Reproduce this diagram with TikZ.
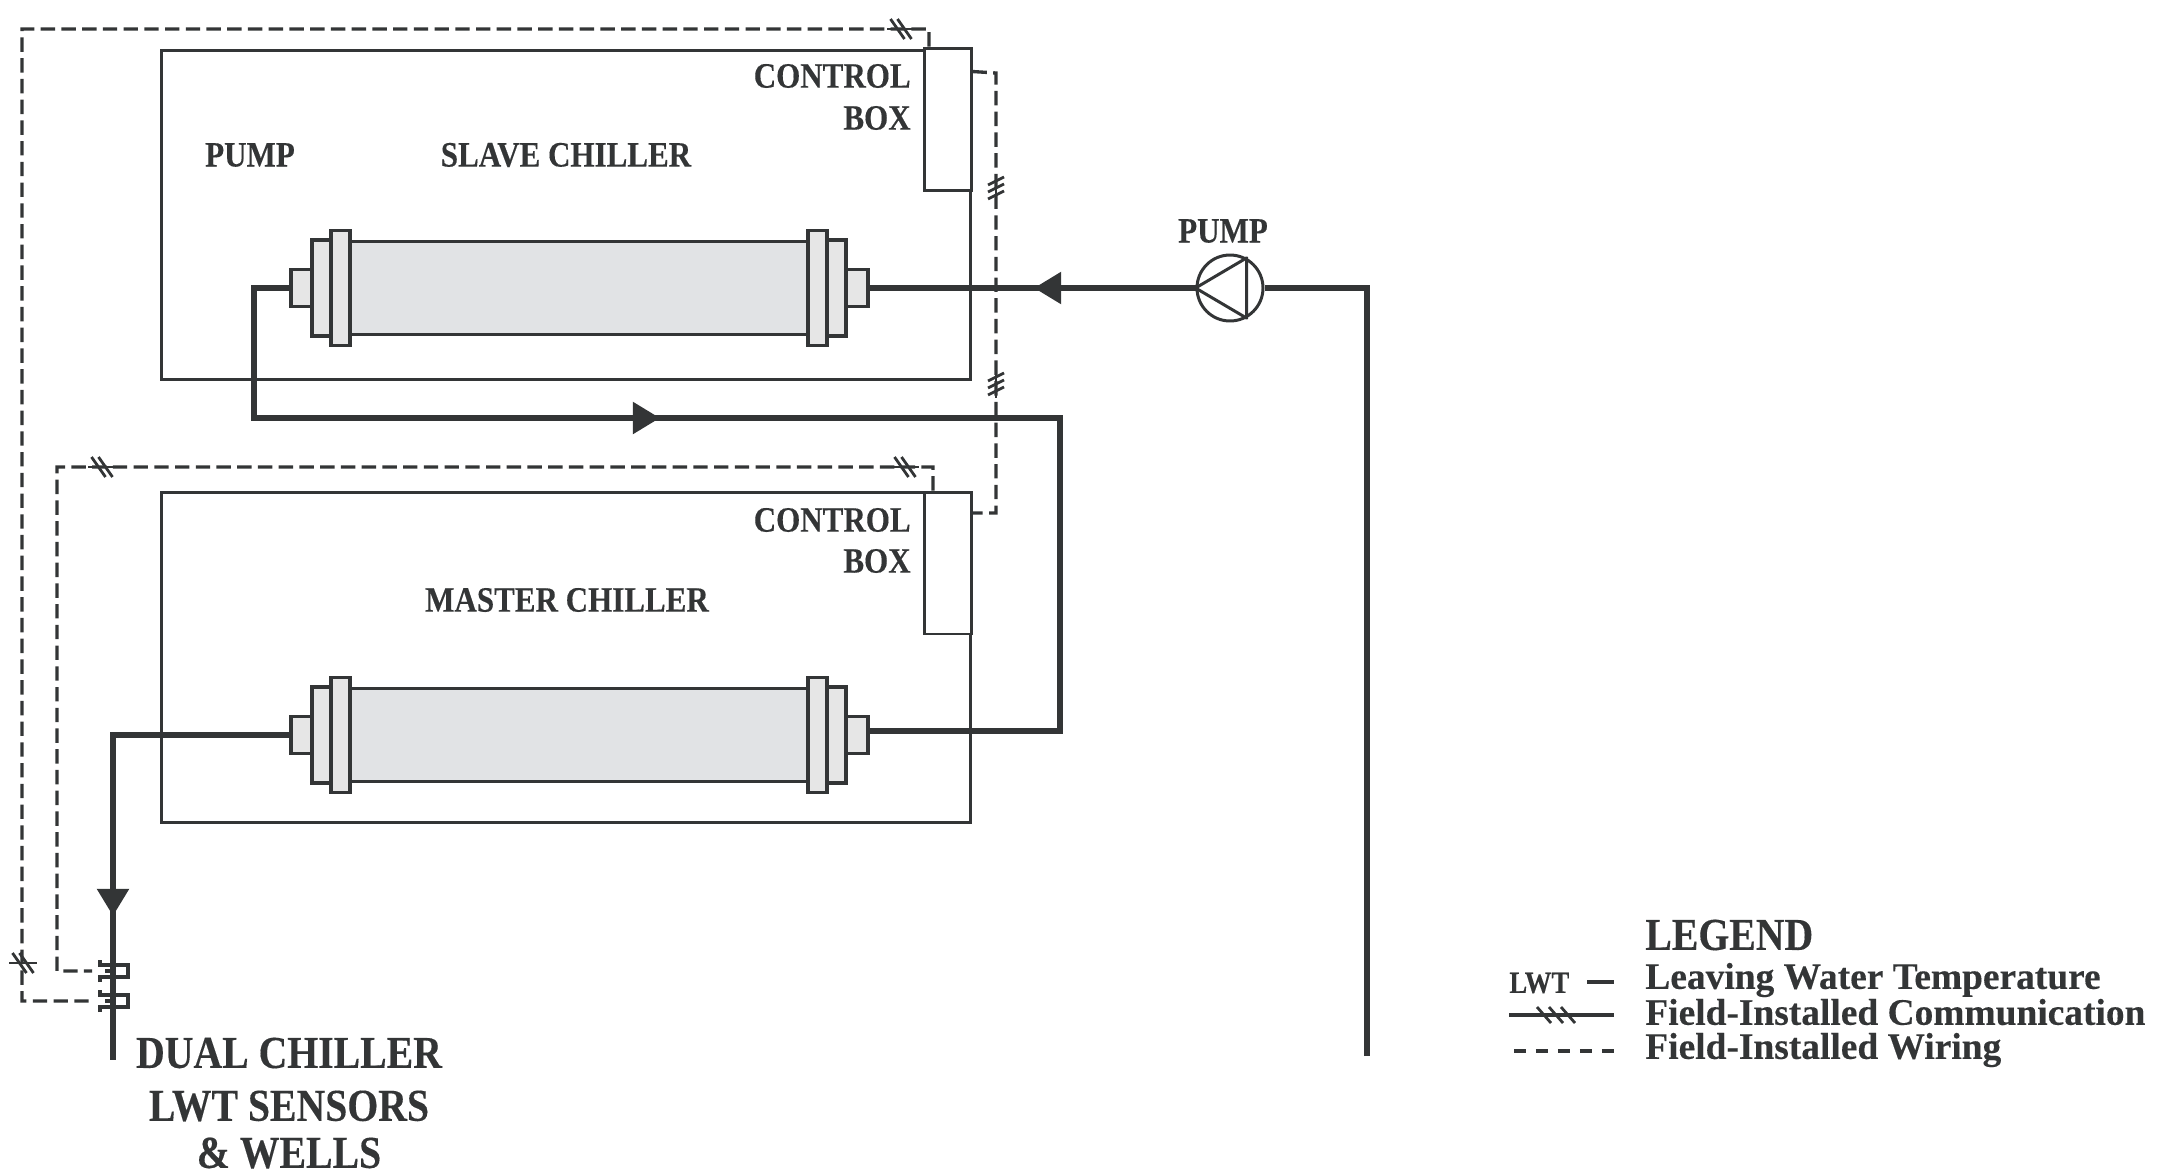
\documentclass[tikz,border=0pt]{standalone}
\usepackage{xcolor}
\usepackage{fontspec}
\setmainfont{Liberation Serif}
\newfontfamily\capsfont{Liberation Serif Bold}[FakeStretch=0.87,FakeBold=0.25]
\newfontfamily\rowfont{Liberation Serif Bold}[FakeBold=0.25]
\usepackage{tikz}
\usetikzlibrary{arrows.meta,calc}
\definecolor{inkgrey}{HTML}{333536}
\definecolor{shellgrey}{HTML}{E1E3E5}
\definecolor{flangegrey}{HTML}{E6E6E6}
\newcommand{\labelfont}{\capsfont\fontsize{20.3}{22}\selectfont}
\newcommand{\bigfont}{\capsfont\fontsize{26}{28}\selectfont}
\newcommand{\legendfont}{\rowfont\fontsize{21.3}{22}\selectfont}
\tikzset{
  chiller/.style={draw=inkgrey,line width=1.7pt,rectangle,inner sep=0pt},
  ctrlbox/.style={chiller,fill=white,minimum width=0.94cm},
  hxpart/.style={chiller,line width=2.1pt,fill=flangegrey},
  pipe/.style={draw=inkgrey,line width=3.7pt,line join=miter},
  flowtip/.style={-{Triangle[length=15.5pt,width=17.5pt]}},
  wiring/.style={draw=inkgrey,line width=1.9pt,dash pattern=on 8.2pt off 3.6pt},
  solidwire/.style={draw=inkgrey,line width=1.6pt},
  lbl/.style={text=inkgrey,inner sep=0pt,font=\labelfont}
}
% slashes across a wire: horizontal run, vertical run
\newcommand{\hslashes}[2]{
  \draw[solidwire] (#1-14,#2) -- (#1+14,#2);
  \foreach \dx in {-3.5,3.5}
    \draw[solidwire] (#1+\dx-7,#2-10) -- (#1+\dx+7,#2+10);
}
\newcommand{\vslashes}[2]{
  \draw[solidwire] (#1,#2-14) -- (#1,#2+14);
  \foreach \dy in {-7,0,7}
    \draw[solidwire] (#1-8,#2+\dy+4) -- (#1+8,#2+\dy-4);
}
\begin{document}
\begin{tikzpicture}[x=0.02cm,y=-0.02cm]
  \useasboundingbox (0,0) rectangle (2157,1174);

  % chiller cabinets and control boxes
  \node[chiller,minimum width=16.2cm,minimum height=6.6cm] (slavebox) at (566,215) {};
  \node[chiller,minimum width=16.2cm,minimum height=6.62cm] (masterbox) at (566,657.5) {};
  \node[ctrlbox,minimum height=2.86cm] (slavectrl) at (947.5,119.5) {};
  \node[ctrlbox,minimum height=2.84cm] (masterctrl) at (947.5,563) {};

  % heat exchangers
  \foreach \hx/\yc in {slave/288,master/735} {
    \node[hxpart,minimum width=9.16cm,minimum height=1.86cm,fill=shellgrey] (\hx shell) at (579,\yc) {};
    \node[hxpart,minimum width=0.42cm,minimum height=0.74cm] (\hx nozl) at (301.5,\yc) {};
    \node[hxpart,minimum width=0.38cm,minimum height=1.92cm] (\hx flal) at (321.5,\yc) {};
    \node[hxpart,minimum width=0.38cm,minimum height=2.3cm] (\hx flbl) at (340.5,\yc) {};
    \node[hxpart,minimum width=0.38cm,minimum height=2.3cm] (\hx flbr) at (817.5,\yc) {};
    \node[hxpart,minimum width=0.38cm,minimum height=1.92cm] (\hx flar) at (836.5,\yc) {};
    \node[hxpart,minimum width=0.44cm,minimum height=0.74cm] (\hx nozr) at (857,\yc) {};
  }

  % water circuit
  \node[draw=inkgrey,line width=1.7pt,circle,minimum size=1.32cm,inner sep=0pt] (pump) at (1230,288) {};
  \draw[draw=inkgrey,line width=1.7pt,line join=round] (pump.180) -- (pump.61) -- (pump.-61) -- cycle;
  \coordinate (riserend) at (1367,1056);
  \coordinate (slavetip) at (1034,288);
  \coordinate (crosstip) at (660,418);
  \coordinate (crossl) at (254,418);
  \coordinate (crossr) at (1060,418);
  \coordinate (headertip) at (113,916);
  \coordinate (headerend) at (113,1060);
  \draw[pipe] (riserend) |- (pump.east);
  \draw[pipe] (pump.west) -- (slavenozr.east);
  \draw[pipe] (slavenozl.west) -| (crossl) -- (crossr) |- ([yshift=2.2pt]masternozr.east);
  \draw[pipe] (masternozl.west) -| (headerend);
  \draw[pipe,flowtip] (pump.west) -- (slavetip);
  \draw[pipe,flowtip] (crossl) -- (crosstip);
  \draw[pipe,flowtip] (113,800) -- (headertip);

  % sensor wells on the header
  \foreach \ys in {971,1001} {
    \draw[solidwire,line width=2pt] (113,\ys-6) rectangle (128,\ys+6);
    \draw[solidwire,line width=2pt] (100,\ys-11) |- (113,\ys-6);
    \draw[solidwire,line width=2pt] (100,\ys+11) |- (113,\ys+6);
    \draw[solidwire,line width=2pt] (105,\ys) -- (113,\ys);
  }

  % field wiring
  \coordinate (wellone) at (92,971);
  \coordinate (welltwo) at (92,1001);
  \draw[wiring] ([xshift=-0.37cm]slavectrl.north) -- (929,29) -- (22,29) -- (22,1001) -- (welltwo);
  \draw[wiring] ([xshift=-0.29cm]masterctrl.north) -- (933,467) -- (57,467) -- (57,971) -- (wellone);
  \draw[wiring] ([yshift=-0.5cm]slavectrl.north east) -- (996,73) -- (996,513) -- (masterctrl.east |- 0,513);
  \hslashes{901}{29}
  \hslashes{905}{467}
  \hslashes{102}{467}
  \hslashes{23}{963}
  \vslashes{996}{188}
  \vslashes{996}{384}

  % labels
  \node[lbl,anchor=east] (ctrltopa) at (911,76) {CONTROL};
  \node[lbl,anchor=east] (ctrltopb) at (911,118) {BOX};
  \node[lbl,anchor=east] (ctrlbota) at (911,520) {CONTROL};
  \node[lbl,anchor=east] (ctrlbotb) at (911,561) {BOX};
  \node[lbl] (pumplblin) at (250,155) {PUMP};
  \node[lbl] (slavelbl) at (566,155) {SLAVE CHILLER};
  \node[lbl] (masterlbl) at (567,600) {MASTER CHILLER};
  \node[lbl] (pumplbl) at (1223,231) {PUMP};
  \node[lbl,font=\bigfont] (duala) at (289,1053) {DUAL CHILLER};
  \node[lbl,font=\bigfont] (dualb) at (289,1106) {LWT SENSORS};
  \node[lbl,font=\bigfont] (dualc) at (289,1153) {\& WELLS};

  % legend
  \node[lbl,font=\bigfont,anchor=west] (legendhead) at (1645,935) {LEGEND};
  \node[lbl,font=\legendfont,anchor=west] (legendlwt) at (1645,980) {Leaving Water Temperature};
  \node[lbl,font=\legendfont,anchor=west] (legendcomm) at (1645,1012) {Field-Installed Communication};
  \node[lbl,font=\legendfont,anchor=west] (legendwire) at (1645,1050) {Field-Installed Wiring};
  \node[lbl,font=\capsfont\fontsize{17.5}{18}\selectfont,anchor=west] (legendabbr) at (1509,983) {LWT};
  \coordinate (lwtdasha) at (1587,982);
  \coordinate (lwtdashb) at (1614,982);
  \coordinate (commstart) at (1509,1015);
  \coordinate (commend) at (1614,1015);
  \coordinate (wirestart) at (1514,1051);
  \coordinate (wireend) at (1614,1051);
  \draw[solidwire,line width=1.9pt] (lwtdasha) -- (lwtdashb);
  \draw[solidwire,line width=1.9pt] (commstart) -- (commend);
  \foreach \xc in {1544,1556,1568}
    \draw[solidwire] (\xc-7,1007) -- (\xc+7,1023);
  \draw[wiring,dash pattern=on 7pt off 5.5pt] (wirestart) -- (wireend);
\end{tikzpicture}
\end{document}
